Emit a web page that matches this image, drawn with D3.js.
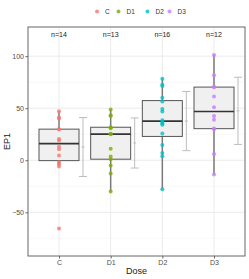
<!DOCTYPE html>
<html>
<head>
<meta charset="utf-8">
<script src="https://cdn.jsdelivr.net/npm/d3@7"></script>
<style>
  body { margin: 0; background: #fff; }
  svg { display: block; font-family: "Liberation Sans", Arial, sans-serif; }
</style>
</head>
<body>
<svg id="chart" width="249" height="279"></svg>
<script>
// EP1 por dose: boxplot + pontos + média ± dp

const doses = ['C', 'D1', 'D2', 'D3'];
const cores = ['#F8766D', '#7CAE00', '#00BFC4', '#C77CFF'];

const valoresC = [47, 41, 40, 30, 29.5, 20.5, 19, 13, 10.5, 4.5, -2, -3.5, -6, -65.5];
const valoresD1 = [48.7, 43.3, 42.6, 31.7, 30.8, 25.5, 25, 11, 3.5, 1, -5, -12.8, -30];
const valoresD2 = [78.2, 72.4, 71.2, 60, 56.4, 49.3, 46.8, 38.5, 36.8, 35.3, 34, 25.6, 14.7, 7, 3.8, -27.9];
const valoresD3 = [101, 81.7, 70.5, 70.2, 61.2, 51, 42.6, 38.8, 30.5, 29.8, 6.1, -13.8];

const yTicks = [-50, 0, 50, 100];
const yMinor = [-75, -25, 25, 75];

const valores = [valoresC, valoresD1, valoresD2, valoresD3];

const W = 249, H = 279;
const m = { left: 28, right: 4, top: 27, bottom: 23 };

const svg = d3.select('#chart');

const x = d3.scalePoint().domain(doses).range([m.left, W - m.right]).padding(0.6);
const y = d3.scaleLinear().domain([-92, 128]).range([H - m.bottom, m.top]);
const cor = d3.scaleOrdinal().domain(doses).range(cores);

// ---------------------------------------------------------------- grade
const grade = svg.append('g');
grade.selectAll('line.minor').data(yMinor).join('line')
  .attr('x1', m.left).attr('x2', W - m.right)
  .attr('y1', (d) => y(d)).attr('y2', (d) => y(d))
  .attr('stroke', '#f4f4f4').attr('stroke-width', 0.6);
grade.selectAll('line.major').data(yTicks).join('line')
  .attr('x1', m.left).attr('x2', W - m.right)
  .attr('y1', (d) => y(d)).attr('y2', (d) => y(d))
  .attr('stroke', '#ebebeb').attr('stroke-width', 1);
grade.selectAll('line.vx').data(doses).join('line')
  .attr('x1', (d) => x(d)).attr('x2', (d) => x(d))
  .attr('y1', m.top).attr('y2', H - m.bottom)
  .attr('stroke', '#ebebeb').attr('stroke-width', 1);

// ---------------------------------------------------------------- estatísticas
const stats = doses.map((d, i) => {
  const s = valores[i].slice().sort(d3.ascending);
  const q1 = d3.quantileSorted(s, 0.25);
  const med = d3.quantileSorted(s, 0.5);
  const q3 = d3.quantileSorted(s, 0.75);
  const iqr = q3 - q1;
  const lo = d3.min(s.filter((v) => v >= q1 - 1.5 * iqr));
  const hi = d3.max(s.filter((v) => v <= q3 + 1.5 * iqr));
  const media = d3.mean(s);
  const dp = d3.deviation(s);
  return { dose: d, vals: valores[i], q1, med, q3, lo, hi, media, dp };
});

const meiaCaixa = 20;
const deslocErro = 24;

const g = svg.append('g');

// bigodes
g.selectAll('line.whisk').data(stats).join('line')
  .attr('x1', (d) => x(d.dose)).attr('x2', (d) => x(d.dose))
  .attr('y1', (d) => y(d.lo)).attr('y2', (d) => y(d.hi))
  .attr('stroke', '#7a7a7a').attr('stroke-width', 1.5);

// caixas
g.selectAll('rect.box').data(stats).join('rect')
  .attr('x', (d) => x(d.dose) - meiaCaixa).attr('width', meiaCaixa * 2)
  .attr('y', (d) => y(d.q3)).attr('height', (d) => y(d.q1) - y(d.q3))
  .attr('fill', '#f0f0f0').attr('stroke', '#555').attr('stroke-width', 1);

g.selectAll('line.med').data(stats).join('line')
  .attr('x1', (d) => x(d.dose) - meiaCaixa).attr('x2', (d) => x(d.dose) + meiaCaixa)
  .attr('y1', (d) => y(d.med)).attr('y2', (d) => y(d.med))
  .attr('stroke', '#333').attr('stroke-width', 1.7);

// média ± dp
const erro = g.selectAll('g.err').data(stats).join('g')
  .attr('transform', (d) => `translate(${x(d.dose) + deslocErro},0)`);
erro.append('line')
  .attr('y1', (d) => y(d.media + d.dp)).attr('y2', (d) => y(d.media - d.dp))
  .attr('stroke', '#bdbdbd').attr('stroke-width', 1);
erro.append('line').attr('x1', -4).attr('x2', 4)
  .attr('y1', (d) => y(d.media + d.dp)).attr('y2', (d) => y(d.media + d.dp))
  .attr('stroke', '#bdbdbd').attr('stroke-width', 1);
erro.append('line').attr('x1', -4).attr('x2', 4)
  .attr('y1', (d) => y(d.media - d.dp)).attr('y2', (d) => y(d.media - d.dp))
  .attr('stroke', '#bdbdbd').attr('stroke-width', 1);
erro.append('line').attr('x1', -1.5).attr('x2', 1.5)
  .attr('y1', (d) => y(d.media)).attr('y2', (d) => y(d.media))
  .attr('stroke', '#bdbdbd').attr('stroke-width', 1);

// pontos
stats.forEach((s) => {
  g.append('g').selectAll('circle').data(s.vals).join('circle')
    .attr('cx', x(s.dose)).attr('cy', (v) => y(v)).attr('r', 2)
    .attr('fill', cor(s.dose)).attr('fill-opacity', 0.8);
});

// n=
svg.append('g').selectAll('text').data(stats).join('text')
  .attr('x', (d) => x(d.dose)).attr('y', 37)
  .attr('text-anchor', 'middle').attr('font-size', 7).attr('fill', '#222')
  .text((d) => `n=${d.vals.length}`);

// borda do painel
svg.append('rect')
  .attr('x', m.left).attr('y', m.top)
  .attr('width', W - m.left - m.right).attr('height', H - m.top - m.bottom)
  .attr('fill', 'none').attr('stroke', '#666').attr('stroke-width', 1);

// ---------------------------------------------------------------- eixos
const eixoY = svg.append('g')
  .attr('transform', `translate(${m.left},0)`)
  .call(d3.axisLeft(y).tickValues(yTicks).tickSize(2.5).tickPadding(1.5));
const eixoX = svg.append('g')
  .attr('transform', `translate(0,${H - m.bottom})`)
  .call(d3.axisBottom(x).tickSize(2.5).tickPadding(1.5));
for (const e of [eixoY, eixoX]) {
  e.select('.domain').remove();
  e.selectAll('line').attr('stroke', '#666');
  e.selectAll('text').attr('font-size', 7).attr('fill', '#4d4d4d')
    .attr('font-family', '"Liberation Sans", Arial, sans-serif');
}

svg.append('text')
  .attr('transform', `translate(10,${(m.top + H - m.bottom) / 2}) rotate(-90)`)
  .attr('text-anchor', 'middle').attr('font-size', 9).attr('fill', '#222')
  .text('EP1');
svg.append('text')
  .attr('x', (m.left + W - m.right) / 2).attr('y', 274)
  .attr('text-anchor', 'middle').attr('font-size', 9).attr('fill', '#222')
  .text('Dose');

// ---------------------------------------------------------------- legenda
const legX = [97, 118.5, 147.5, 169.5];
const leg = svg.append('g').selectAll('g').data(doses).join('g')
  .attr('transform', (d, i) => `translate(${legX[i]},11.5)`);
leg.append('circle').attr('r', 2).attr('fill', (d) => cor(d)).attr('fill-opacity', 0.8);
leg.append('text').attr('x', 8).attr('y', 2.4)
  .attr('font-size', 6.5).attr('fill', '#333').text((d) => d);
</script>
</body>
</html>
